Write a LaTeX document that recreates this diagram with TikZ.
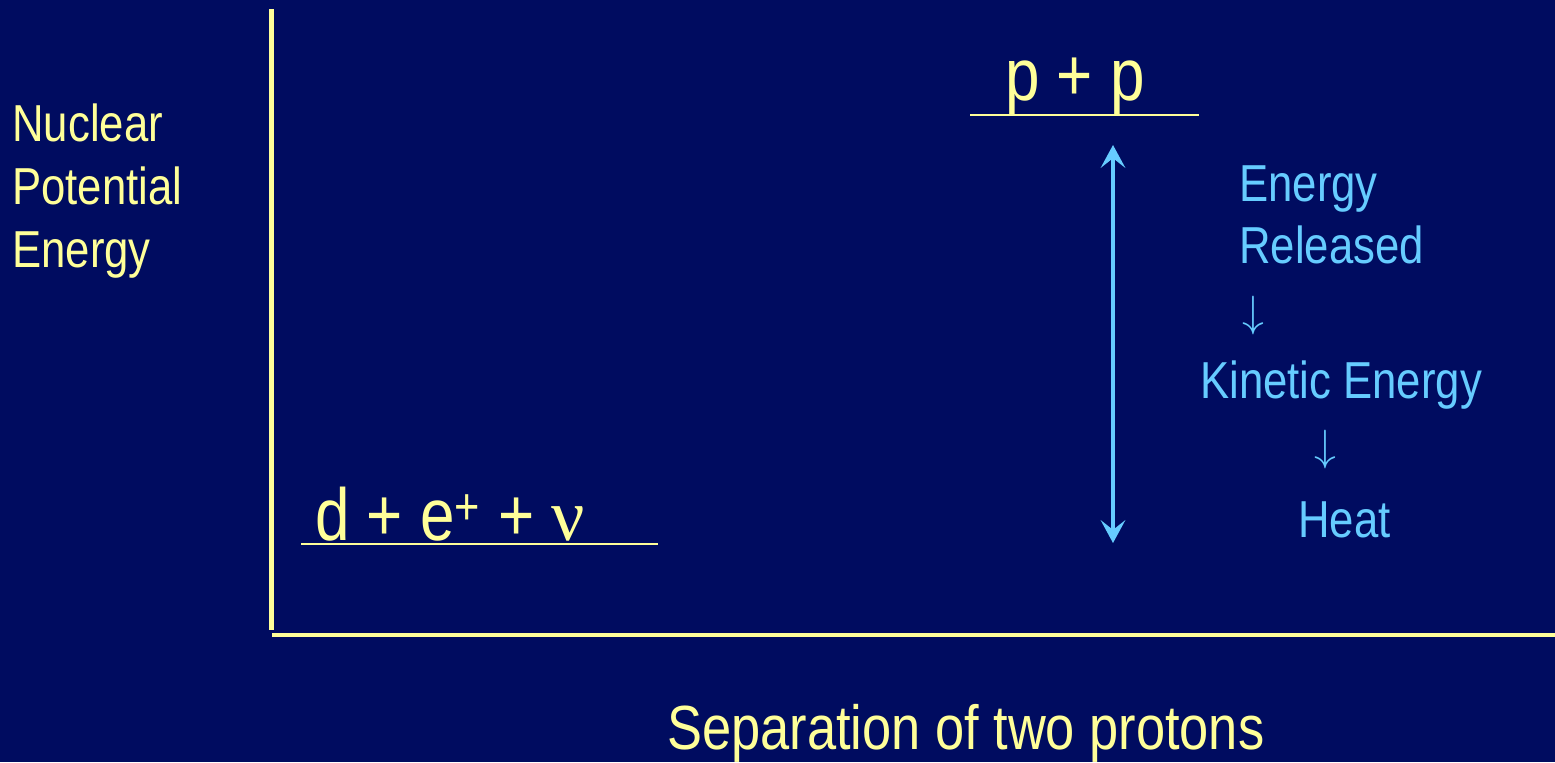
\documentclass[tikz,border=0pt]{standalone}
\usepackage{fontspec}
\setmainfont{Liberation Sans}[FakeStretch=0.84]
\newfontfamily\greekfont{Liberation Serif}
\usetikzlibrary{arrows.meta}
\definecolor{slidebg}{HTML}{000C60}
\definecolor{chalk}{HTML}{FFFF99}
\definecolor{paleblue}{HTML}{66CCFF}

\begin{document}
\begin{tikzpicture}[x=0.02cm, y=-0.02cm,
    axisline/.style={draw=chalk, line width=2.5pt},
    levelline/.style={draw=chalk, line width=1.4pt},
    leveltxt/.style={inner sep=0pt, anchor=base west, text=chalk, font=\fontsize{42}{50}\selectfont},
    axistxt/.style={inner sep=0pt, text=chalk, font=\fontsize{29.6}{35.9}\selectfont},
    bluetxt/.style={inner sep=0pt, anchor=base west, text=paleblue, font=\fontsize{29.6}{35.9}\selectfont},
    bluearrow/.style={inner sep=0pt, text=paleblue, font=\fontsize{29.6}{35.9}\selectfont},
    gaptip/.tip={Stealth[length=13pt, width=14pt, inset=5.5pt]}]
        \fill[slidebg] (0,0) rectangle (1555,762);
        \useasboundingbox (0,0) rectangle (1555,762);
        \draw[axisline] (271.5,9) -- (271.5,630);
        \draw[axisline] (272,635) -- (1555,635);
        \node[axistxt, anchor=north west, align=left] (energyaxis) at (12,103) {Nuclear\\Potential\\Energy};
        \node[axistxt, anchor=base west, font=\fontsize{35.5}{42}\selectfont] (sepaxis) at (667,749) {Separation of two protons};
        \draw[levelline] (970,115) -- (1199,115);
        \node[leveltxt] (pp) at (1005,100) {p + p};
        \draw[levelline] (301,544) -- (658,544);
        \node[leveltxt] (dev) at (315,540) {d + e\textsuperscript{+} + {\greekfont ν}};
        \coordinate (gaptop) at (1113,145);
        \coordinate (gapbot) at (1113,543);
        \draw[paleblue, line width=2pt, gaptip-gaptip] (gaptop) -- (gapbot);
        \node[bluetxt] (released1) at (1239,201) {Energy};
        \node[bluetxt] (released2) at (1239,263) {Released};
        \node[bluearrow] (down1) at (1253,316) {$\downarrow$};
        \node[bluetxt] (kinetic) at (1200,398) {Kinetic Energy};
        \node[bluearrow] (down2) at (1325,449.5) {$\downarrow$};
        \node[bluetxt] (heat) at (1298,537) {Heat};
    \end{tikzpicture}
\end{document}
